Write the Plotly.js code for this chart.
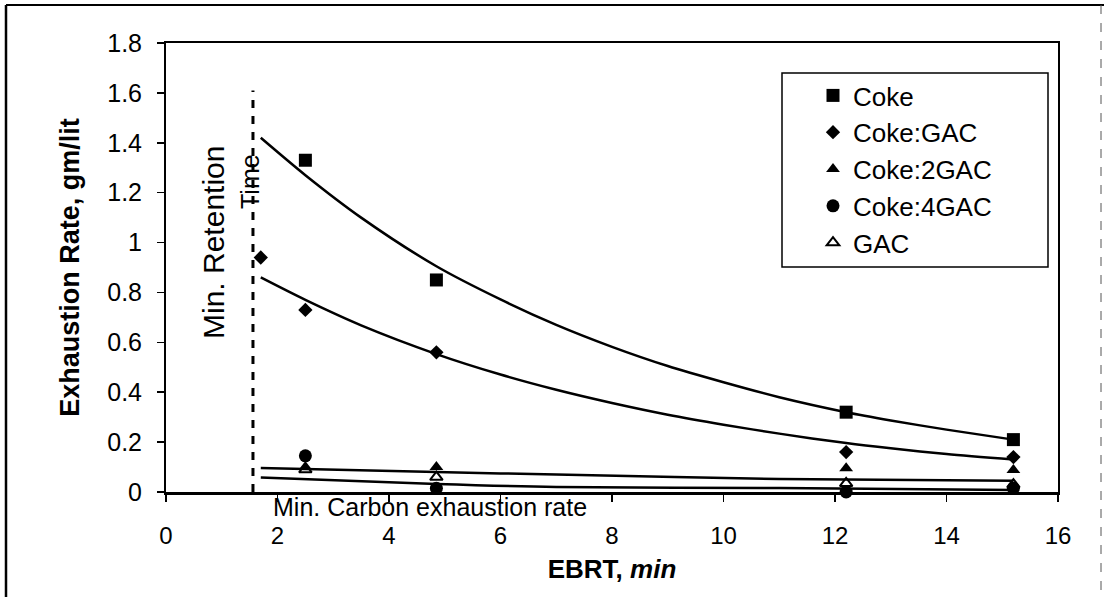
<!DOCTYPE html>
<html><head><meta charset="utf-8">
<script src="https://cdn.plot.ly/plotly-3.0.1.min.js"></script>
<style>html,body{margin:0;padding:0;background:#fff}</style>
</head><body><div id="chart" style="width:1104px;height:597px"></div>
<script>
// Measured points (EBRT, min  ->  Exhaustion rate, gm/lit)
const ebrtCoke = [2.5, 4.85, 12.2, 15.2];
const rateCoke = [1.33, 0.85, 0.32, 0.21];
const ebrtCokeGAC = [1.7, 2.5, 4.85, 12.2, 15.2];
const rateCokeGAC = [0.94, 0.73, 0.56, 0.16, 0.14];
const ebrtCoke2GAC = [2.5, 4.85, 12.2, 15.2];
const rateCoke2GAC = [0.10, 0.10, 0.095, 0.088];
const ebrtCoke4GAC = [2.5, 4.85, 12.2, 15.2];
const rateCoke4GAC = [0.145, 0.015, 0.0, 0.015];
const ebrtGAC = [2.5, 4.85, 12.2, 15.2];
const rateGAC = [0.09, 0.06, 0.035, 0.03];

// Trend lines
const trendX = [1.7, 2.5, 3.5, 4.85, 6, 7, 8, 9, 10, 11, 12.2, 13, 14, 15.2];
const trendCoke = [1.42, 1.27, 1.10, 0.905, 0.772, 0.67, 0.582, 0.505, 0.44, 0.38, 0.32, 0.287, 0.25, 0.21];
const trendCokeGAC = [0.86, 0.77, 0.668, 0.553, 0.471, 0.41, 0.357, 0.31, 0.27, 0.234, 0.196, 0.175, 0.152, 0.13];
const lowX = [1.7, 4.85, 7, 11, 15.2];
const trendLow1 = [0.096, 0.08, 0.07, 0.052, 0.045];
const trendLow2 = [0.058, 0.032, 0.02, 0.016, 0.008];

// Minimum retention time marker
const minRetX = [1.56, 1.56];
const minRetY = [0, 1.61];

// Axis ticks
const xTicks = [0, 2, 4, 6, 8, 10, 12, 14, 16];
const yTicks = [0, 0.2, 0.4, 0.6, 0.8, 1, 1.2, 1.4, 1.6, 1.8];
const yTickText = ['0', '0.2', '0.4', '0.6', '0.8', '1', '1.2', '1.4', '1.6', '1.8'];

const FONT = 'Liberation Sans, Arial, sans-serif';
const K = '#000';

function trend(x, y) {
  return {x: x, y: y, mode: 'lines', showlegend: false, hoverinfo: 'skip',
          line: {color: K, width: 2.5, shape: 'spline', smoothing: 0.8}, cliponaxis: false};
}
function pts(name, x, y, symbol, size) {
  return {x: x, y: y, name: name, mode: 'markers', cliponaxis: false,
          marker: {symbol: symbol, size: size, color: K, line: {color: K, width: symbol.indexOf('open') >= 0 ? 2 : 0}}};
}

const data = [
  trend(trendX, trendCoke),
  trend(trendX, trendCokeGAC),
  trend(lowX, trendLow1),
  trend(lowX, trendLow2),
  {x: minRetX, y: minRetY, mode: 'lines', showlegend: false, hoverinfo: 'skip',
   line: {color: K, width: 3, dash: '8px,8px'}},
  pts('Coke', ebrtCoke, rateCoke, 'square', 13),
  pts('Coke:GAC', ebrtCokeGAC, rateCokeGAC, 'diamond', 11),
  pts('Coke:2GAC', ebrtCoke2GAC, rateCoke2GAC, 'triangle-up', 12),
  pts('Coke:4GAC', ebrtCoke4GAC, rateCoke4GAC, 'circle', 13),
  pts('GAC', ebrtGAC, rateGAC, 'triangle-up-open', 11)
];

function px2x(p) { return (p - 166) / 892; }
function px2y(q) { return (492 - q) / 449; }

const layout = {
  width: 1104, height: 597,
  margin: {l: 166, r: 46, t: 43, b: 105, pad: 0},
  paper_bgcolor: '#fff', plot_bgcolor: '#fff',
  font: {family: FONT, color: K, size: 25},
  showlegend: true,
  legend: {x: px2x(813), y: px2y(72), xanchor: 'left', yanchor: 'top',
           bgcolor: 'rgba(0,0,0,0)', borderwidth: 0,
           font: {family: FONT, size: 26, color: K}},
  xaxis: {range: [0, 16], tickvals: xTicks, ticktext: xTicks.map(String),
          showgrid: false, zeroline: false, showline: true, linecolor: K, linewidth: 2.5, mirror: true,
          ticks: 'outside', ticklen: 7, tickwidth: 1.5, tickcolor: K, ticklabelstandoff: 14,
          tickfont: {family: FONT, size: 24, color: K},
          title: {text: '<b>EBRT, <i>min</i></b>', font: {family: FONT, size: 26, color: K}, standoff: 12}},
  yaxis: {range: [0, 1.8], tickvals: yTicks, ticktext: yTickText,
          showgrid: false, zeroline: false, showline: true, linecolor: K, linewidth: 2, mirror: true,
          ticks: 'outside', ticklen: 7, tickwidth: 1.5, tickcolor: K, ticklabelstandoff: 10,
          tickfont: {family: FONT, size: 25, color: K},
          title: {text: '<b>Exhaustion Rate, gm/lit</b>', font: {family: FONT, size: 27, color: K}, standoff: 20}},
  shapes: [
    {type: 'rect', xref: 'paper', yref: 'paper', x0: px2x(782), x1: px2x(1048), y0: px2y(267), y1: px2y(73),
     line: {color: K, width: 1.5}, fillcolor: 'rgba(0,0,0,0)'},
    {type: 'line', xref: 'paper', yref: 'paper', x0: px2x(6), x1: px2x(6), y0: px2y(5), y1: px2y(610),
     line: {color: K, width: 2.5}},
    {type: 'line', xref: 'paper', yref: 'paper', x0: px2x(6), x1: px2x(1110), y0: px2y(5), y1: px2y(5),
     line: {color: K, width: 2}},
    {type: 'line', xref: 'paper', yref: 'paper', x0: px2x(1101), x1: px2x(1101), y0: px2y(5), y1: px2y(610),
     line: {color: '#555', width: 1, dash: 'dash'}}
  ],
  annotations: [
    {text: 'Min. Retention', xref: 'paper', yref: 'paper', x: px2x(213), y: px2y(243),
     showarrow: false, textangle: -90, xanchor: 'center', yanchor: 'middle',
     font: {family: FONT, size: 30, color: K}},
    {text: 'Time', xref: 'paper', yref: 'paper', x: px2x(250), y: px2y(182),
     showarrow: false, textangle: -90, xanchor: 'center', yanchor: 'middle',
     font: {family: FONT, size: 25, color: K}},
    {text: 'Min. Carbon exhaustion rate', xref: 'paper', yref: 'paper', x: px2x(271), y: px2y(507),
     showarrow: false, xanchor: 'left', yanchor: 'middle',
     font: {family: FONT, size: 25, color: K}}
  ]
};

Plotly.newPlot('chart', data, layout, {displayModeBar: false, staticPlot: true});
</script>
</body></html>
